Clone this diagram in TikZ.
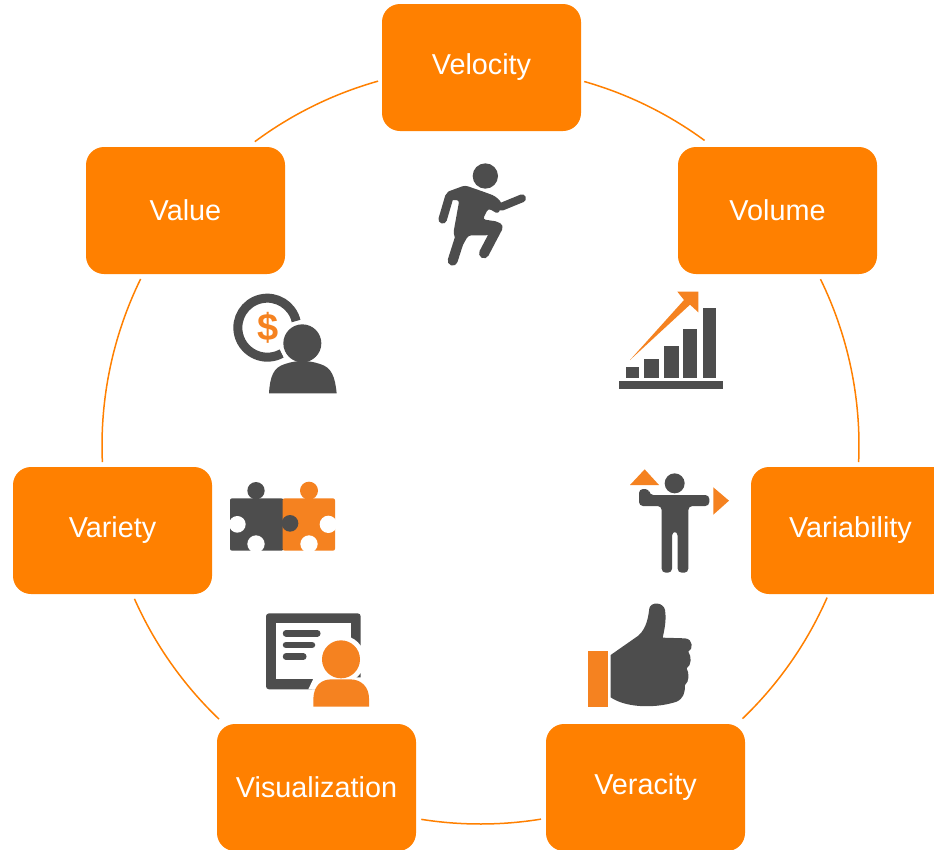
\documentclass[tikz,border=0pt]{standalone}
\usepackage{fontspec}
\setmainfont{Liberation Sans}
\definecolor{boxor}{HTML}{FF8000}
\definecolor{iconor}{HTML}{F58220}
\definecolor{icondk}{HTML}{4D4D4D}
\tikzset{
  vbox/.style={fill=boxor,rounded corners=18pt,minimum width=199pt,minimum height=127pt,inner sep=0pt,text=white,font=\fontsize{28.8}{34}\selectfont},
  ring/.style={draw=boxor,line width=1.5pt},
  dk/.style={fill=icondk},
  orr/.style={fill=iconor},
  wh/.style={fill=white},
  zoomA/.style={shift={(420,150)},scale=1/3},
  zoomB/.style={shift={(210,280)},scale=1/3},
  zoomC/.style={shift={(570,460)},scale=1/3},
  zoomD/.style={shift={(250,600)},scale=1/3},
}
\newcommand{\ringarc}[2]{\draw[ring] ($(ctr)+(-#1:378.5)$) arc[start angle=-#1,end angle=-#2,radius=378.5];}
\usetikzlibrary{calc}
\begin{document}
\begin{tikzpicture}[x=1pt,y=-1pt]
\clip (0,0) rectangle (934,849);
\fill[white] (0,0) rectangle (934,849);
\coordinate (ctr) at (480.5,445.5);
% boxes
\node[vbox] (velocity) at (481.5,67.5) {Velocity};
\node[vbox] (volume) at (777.5,210.5) {Volume};
\node[vbox] (variability) at (850.5,530.5) {Variability};
\node[vbox] (veracity) at (645.5,787.5) {Veracity};
\node[vbox] (visualization) at (316.5,787.5) {Visualization};
\node[vbox] (variety) at (112.5,530.5) {Variety};
\node[vbox] (value) at (185.5,210.5) {Value};
% ring arcs
\ringarc{74.1}{53.7}
\ringarc{26.06}{-2.5}
\ringarc{-23.7}{-46.2}
\ringarc{-80.8}{-99}
\ringarc{226.3}{203.9}
\ringarc{182.5}{153.9}
\ringarc{126.6}{105.7}
% runner
\begin{scope}[zoomA]
\fill[dk] (196,78) circle (38);
\fill[dk,rounded corners=3pt] (78,127) -- (135,106) -- (190,125) -- (225,138) -- (247,160) -- (235,192) -- (205,175) -- (188,208) -- (235,215) -- (250,235) -- (205,256) -- (145,256) -- (120,300) -- (100,250) -- (118,150) -- (90,150) -- cycle;
\draw[icondk,line width=8.5pt,line cap=round] (88,140) -- (68,208);
\draw[icondk,line width=8pt,line cap=round] (245,170) -- (306,145);
\draw[icondk,line width=10pt,line cap=round] (140,200) -- (98,332);
\draw[icondk,line width=10pt,line cap=round] (233,232) -- (192,310);
\end{scope}
% chart
\begin{scope}[zoomA]
\fill[dk] (596,692) rectangle (908,716);
\fill[dk] (618,652) rectangle (658,683);
\fill[dk] (673,628) rectangle (717,683);
\fill[dk] (731,588) rectangle (776,683);
\fill[dk] (790,538) rectangle (830,683);
\fill[dk] (849,475) rectangle (889,683);
\fill[orr] (630,630) -- (792,450) -- (772,425) -- (835,425) -- (835,487) -- (810,464) -- cycle;
\end{scope}
% value icon
\begin{scope}[zoomB]
\draw[icondk,line width=9pt] (172,143) ++(-13:88.5) arc[start angle=-13,end angle=-299,radius=88.5];
\node[text=iconor,inner sep=0pt,font=\fontsize{38}{40}\selectfont\bfseries] (dollar) at (174,143) {\$};
\fill[wh] (277,190) circle (68);
\fill[dk] (277,190) circle (57);
\fill[dk] (177,340) .. controls (180,290) and (190,262) .. (225,252) .. controls (260,240) and (295,240) .. (330,252) .. controls (365,262) and (375,290) .. (380,340) -- cycle;
\end{scope}
% puzzle
\begin{scope}[zoomB]
\fill[dk,rounded corners=2pt] (60,655) rectangle (220,812);
\fill[dk] (138,632) circle (26);
\fill[orr,rounded corners=2pt] (218,655) rectangle (375,812);
\fill[orr] (297,632) circle (27);
\fill[wh] (82,733) circle (25);
\fill[wh] (138,792) circle (26);
\fill[wh] (297,792) circle (26);
\fill[wh] (355,733) circle (26);
\fill[dk] (240,730) circle (25);
\end{scope}
% signal man
\begin{scope}[zoomC]
\fill[orr] (180,75) -- (224,28) -- (267,75) -- cycle;
\fill[orr] (430,82) -- (477,122) -- (430,164) -- cycle;
\fill[dk] (314,70) circle (30);
\fill[dk,rounded corners=4pt] (207,87) -- (238,87) -- (238,105) -- (418,105) -- (418,138) -- (355,138) -- (355,215) -- (355,338) -- (323,338) -- (323,215) -- (306,215) -- (306,338) -- (275,338) -- (275,138) -- (207,138) -- cycle;
\end{scope}
% thumb
\begin{scope}[zoomC]
\fill[orr] (55,572) rectangle (113,740);
\fill[dk] (122,585) -- (205,527) .. controls (230,505) and (235,470) .. (238,445) .. controls (242,425) and (280,425) .. (285,450) .. controls (290,480) and (283,510) .. (278,533) -- (345,535) .. controls (370,537) and (370,568) .. (355,575) .. controls (365,590) and (365,615) .. (350,625) .. controls (358,640) and (358,665) .. (345,675) .. controls (345,700) and (340,715) .. (320,725) .. controls (260,745) and (170,745) .. (122,712) -- cycle;
\end{scope}
% presenter
\begin{scope}[zoomD]
\fill[dk,rounded corners=3pt] (48,40) rectangle (332,268);
\fill[wh] (78,68) rectangle (302,238);
\draw[icondk,line width=6.5pt,line cap=round] (108,100) -- (202,100);
\draw[icondk,line width=6.5pt,line cap=round] (108,135) -- (186,135);
\draw[icondk,line width=6.5pt,line cap=round] (108,170) -- (160,170);
\fill[wh] (273,178) circle (72);
\fill[wh] (175,268) -- (192,232) -- (345,232) -- (345,275) -- cycle;
\fill[orr] (190,320) -- (190,295) .. controls (192,255) and (215,238) .. (245,238) -- (300,238) .. controls (335,238) and (357,262) .. (357,295) -- (357,320) -- cycle;
\fill[orr] (273,178) circle (57);
\end{scope}
\end{tikzpicture}
\end{document}
